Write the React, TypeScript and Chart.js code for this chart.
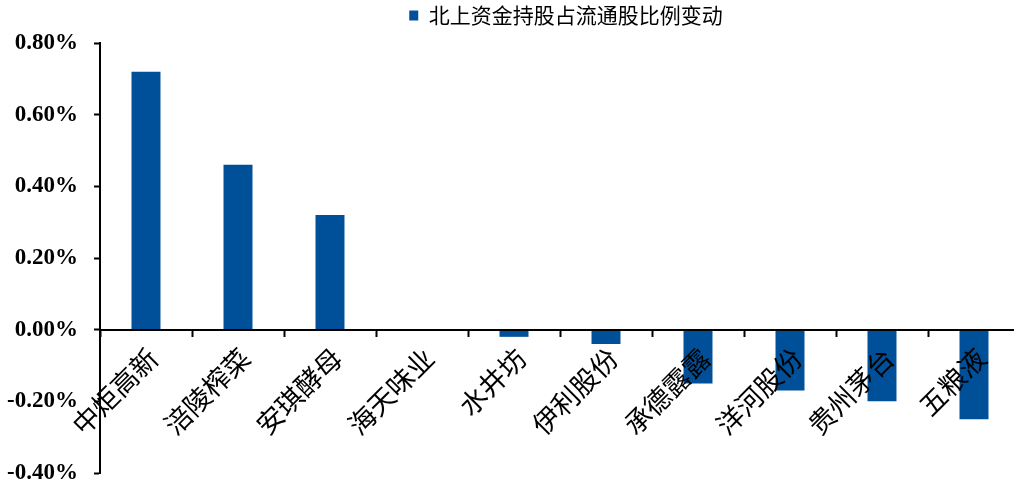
import React, { useEffect, useRef } from "react";
import { Chart, registerables } from "chart.js";

Chart.register(...registerables);

const categories = ["中炬高新", "涪陵榨菜", "安琪酵母", "海天味业", "水井坊", "伊利股份", "承德露露", "洋河股份", "贵州茅台", "五粮液"];
const changeValues = [0.72, 0.46, 0.32, 0.0, -0.02, -0.04, -0.15, -0.17, -0.2, -0.25];
const seriesName = "北上资金持股占流通股比例变动";
const yMin = -0.4;
const yMax = 0.8;
const yStep = 0.2;

const BAR_COLOR = "#004F99";

export default function App() {
  const ref = useRef<HTMLCanvasElement | null>(null);

  useEffect(() => {
    if (!ref.current) return;
    const legendShift = {
      id: "legendShift",
      afterLayout(chart: any) {
        if (chart.legend) {
          chart.legend.left += 6;
          chart.legend.right += 6;
        }
      },
    };
    const chart = new Chart(ref.current, {
      type: "bar",
      data: {
        labels: categories,
        datasets: [
          {
            label: seriesName,
            data: changeValues,
            backgroundColor: BAR_COLOR,
            borderWidth: 0,
            categoryPercentage: 1,
            barPercentage: 0.315,
          },
        ],
      },
      plugins: [legendShift],
      options: {
        animation: false,
        responsive: true,
        maintainAspectRatio: false,
        layout: { padding: { top: 0, right: 0, bottom: 1, left: 0 } },
        plugins: {
          tooltip: { enabled: false },
          legend: {
            display: true,
            position: "top",
            fullSize: false,
            align: "center",
            labels: {
              boxWidth: 9,
              boxHeight: 10,
              padding: 5,
              color: "#000",
              font: { family: "'Noto Sans CJK SC', sans-serif", size: 21 },
            },
          },
        },
        scales: {
          x: {
            type: "category",
            position: { y: 0 } as any,
            offset: true,
            afterFit: (s: any) => {
              s.height = 0;
              s.paddingLeft = 0;
              s.paddingRight = 0;
              s.paddingTop = 0;
              s.paddingBottom = 0;
            },
            grid: {
              display: true,
              drawOnChartArea: false,
              drawTicks: true,
              tickLength: 6,
              tickWidth: 2,
              color: "#000",
              offset: true,
            },
            border: { display: true, color: "#000", width: 2, z: 1 },
            ticks: {
              z: 1,
              minRotation: 45,
              maxRotation: 45,
              autoSkip: false,
              padding: 6,
              labelOffset: 7,
              color: "#000",
              font: { family: "'Noto Sans CJK SC', sans-serif", size: 27 },
            },
          },
          x2: {
            type: "category",
            position: "top",
            display: true,
            grid: { display: false, drawTicks: false },
            border: { display: false },
            ticks: { display: false },
            afterFit: (s: any) => {
              s.height = 7;
            },
          },
          y: {
            min: yMin,
            max: yMax,
            afterFit: (s: any) => {
              s.width = 100;
              s.paddingBottom = 14;
              s.paddingTop = 14;
            },
            grid: {
              display: true,
              drawOnChartArea: false,
              drawTicks: true,
              tickLength: 6,
              tickWidth: 2,
              color: "#000",
            },
            border: { display: true, color: "#000", width: 2 },
            ticks: {
              stepSize: yStep,
              padding: 16,
              color: "#000",
              font: { family: "'Liberation Serif', 'Times New Roman', serif", size: 23, weight: "bold" },
              callback: (v: any) => Number(v).toFixed(2) + "%",
            },
          },
        },
      },
    });
    return () => chart.destroy();
  }, []);

  return (
    <div style={{ position: "absolute", left: 0, top: 0, width: 1014, height: 487, overflow: "hidden", background: "#fff" }}>
      <div style={{ position: "relative", width: 1020, height: 487 }}>
        <canvas ref={ref} />
      </div>
    </div>
  );
}
